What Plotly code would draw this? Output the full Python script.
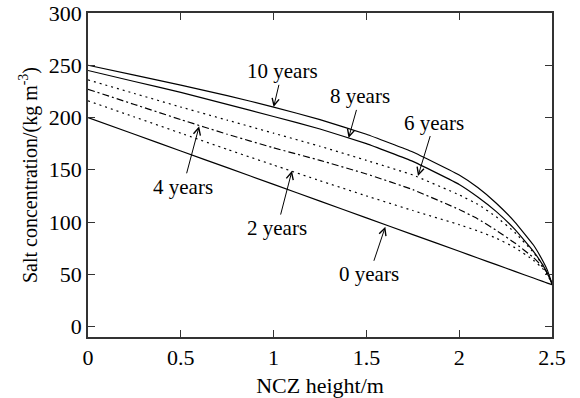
import plotly.graph_objects as go

# NCZ height (m) sample points
x_pts = [0, 0.25, 0.5, 0.75, 1.0, 1.25, 1.5, 1.75, 2.0, 2.1, 2.2, 2.3, 2.4, 2.45, 2.475, 2.5]

y_10 = [250, 240.5, 231, 221, 210, 198, 184, 167, 145, 133, 118, 100, 78, 63, 54, 41]
y_8 = [245, 234.5, 224, 212.5, 201, 189, 175, 158, 136, 124, 110, 93, 72, 59, 51, 41]
y_6 = [236, 223, 210, 197.5, 185, 172.5, 159, 145, 126, 117, 105, 90, 71, 59, 51, 41]
y_4 = [227, 212.5, 198, 184, 171, 159, 146, 131, 112, 103, 92, 80, 66, 57, 51, 41]
y_2 = [216, 200.5, 185, 169.5, 154.5, 139.5, 125, 111, 97.5, 91.5, 84.5, 75.5, 63.5, 55.5, 49.5, 41]
y_0 = [200, 184, 168, 152, 136, 120, 104, 88, 72, 65.6, 59.2, 52.8, 46.4, 43.2, 41.6, 40]

series_names = ["10 years", "8 years", "6 years", "4 years", "2 years", "0 years"]
series_vals = [y_10, y_8, y_6, y_4, y_2, y_0]
series_dash = ["solid", "solid", "2px,4px", "7px,3px,2px,3px", "2px,4px", "solid"]

# annotation: label centre (data) and arrow tip (data)
label_x = [1.046, 1.467, 1.866, 0.512, 1.019, 1.516]
label_y = [244.2, 220.2, 195.2, 133.7, 94.2, 50.0]
tip_x = [1.0, 1.404, 1.778, 0.599, 1.099, 1.602]
tip_y = [210, 180.4, 144, 191.6, 149, 95.5]

x_ticks = [0, 0.5, 1, 1.5, 2, 2.5]
x_ticklabels = ["0", "0.5", "1", "1.5", "2", "2.5"]
y_ticks = [0, 50, 100, 150, 200, 250, 300]

FONT = "Liberation Serif, Times New Roman, Times, Noto Serif, DejaVu Serif, serif"

fig = go.Figure()
for name, vals, dash in zip(series_names, series_vals, series_dash):
    fig.add_trace(go.Scatter(
        x=x_pts, y=vals, mode="lines", name=name,
        line=dict(color="black", width=1.2, dash=dash, shape="spline", smoothing=0.3),
        showlegend=False,
    ))

for name, lx, ly, tx, ty in zip(series_names, label_x, label_y, tip_x, tip_y):
    fig.add_annotation(
        x=tx, y=ty, ax=lx, ay=ly, xref="x", yref="y", axref="x", ayref="y",
        text=name, showarrow=True, arrowhead=5, arrowsize=1.4, arrowwidth=1,
        arrowcolor="black", font=dict(family=FONT, size=21, color="black"),
        borderpad=1,
    )

fig.update_layout(
    width=580, height=398,
    margin=dict(l=88, r=28, t=13, b=61),
    paper_bgcolor="white", plot_bgcolor="white",
    font=dict(family=FONT, size=21, color="black"),
)
fig.update_xaxes(
    range=[0, 2.5], tickvals=x_ticks, ticktext=x_ticklabels,
    ticks="inside", ticklen=7, tickwidth=1.2, tickcolor="#333",
    showline=True, linecolor="#333", linewidth=1.5, mirror="ticks",
    showgrid=False, zeroline=False, automargin=False,
    tickfont=dict(family=FONT, size=22),
    title=dict(text="NCZ height/m", font=dict(family=FONT, size=22), standoff=8),
)
fig.update_yaxes(
    range=[-10, 300], tickvals=y_ticks,
    ticks="inside", ticklen=7, tickwidth=1.2, tickcolor="#333",
    showline=True, linecolor="#333", linewidth=1.5, mirror="ticks",
    showgrid=False, zeroline=False, automargin=False,
    tickfont=dict(family=FONT, size=22),
    title=dict(text="Salt concentration/(kg m<sup>-3</sup>)", font=dict(family=FONT, size=20), standoff=6),
)

fig.write_html("out.html")
